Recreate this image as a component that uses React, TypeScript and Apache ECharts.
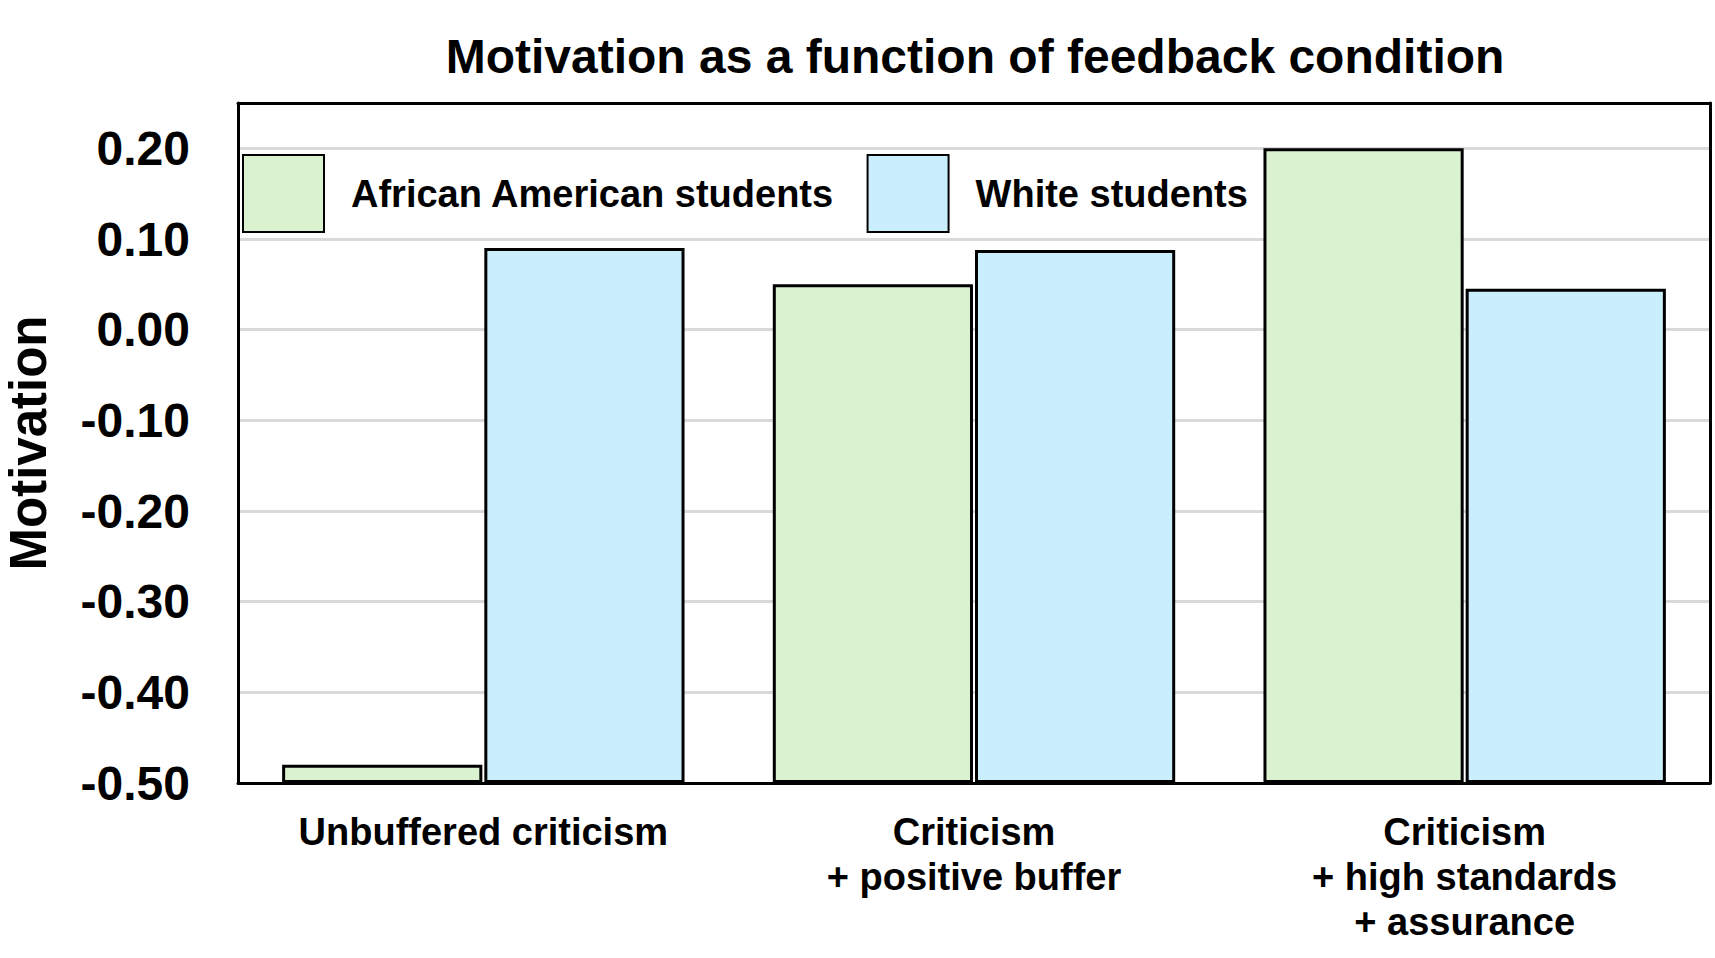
import React, { useEffect, useRef } from "react";
import * as echarts from "echarts";

const categories = [
  "Unbuffered criticism",
  "Criticism\n+ positive buffer",
  "Criticism\n+ high standards\n+ assurance",
];
const seriesNames = ["African American students", "White students"];
const africanAmerican = [-0.48, 0.05, 0.2];
const white = [0.09, 0.088, 0.045];
const yMin = -0.5;
const yMax = 0.25;
const yInterval = 0.1;
const titleText = "Motivation as a function of feedback condition";
const yAxisName = "Motivation";

const FONT = "'Liberation Sans', Arial, Helvetica, sans-serif";

export default function App() {
  const ref = useRef<HTMLDivElement>(null);
  useEffect(() => {
    if (!ref.current) return;
    const chart = echarts.init(ref.current, null, { renderer: "svg" });
    const frameLine = { show: true, onZero: false, lineStyle: { color: "#000", width: 3 } };
    chart.setOption({
      animation: false,
      backgroundColor: "#ffffff",
      title: {
        text: titleText,
        left: 970,
        top: 27,
        textAlign: "center",
        textStyle: {
          fontFamily: FONT,
          fontWeight: "bold",
          fontSize: 48,
          color: "#000",
        },
      },
      legend: {
        data: seriesNames,
        left: 237,
        top: 149,
        orient: "horizontal",
        icon: "rect",
        itemWidth: 81,
        itemHeight: 77,
        itemGap: 32,
        textStyle: {
          fontFamily: FONT,
          fontWeight: "bold",
          fontSize: 38,
          color: "#000",
          padding: [0, 0, 0, 22],
        },
      },
      grid: {
        left: 238,
        right: 5,
        top: 103,
        bottom: 175,
        show: false,
        containLabel: false,
        outerBoundsMode: "none",
      },
      xAxis: [
        {
          type: "category",
          data: categories,
          position: "bottom",
          z: 5,
          axisLine: frameLine,
          axisTick: { show: false },
          axisLabel: {
            fontFamily: FONT,
            fontWeight: "bold",
            fontSize: 38,
            lineHeight: 45,
            color: "#000",
            margin: 26,
            interval: 0,
          },
        },
        {
          type: "category",
          data: categories,
          position: "top",
          z: 5,
          axisLine: frameLine,
          axisTick: { show: false },
          axisLabel: { show: false },
          splitLine: { show: false },
        },
      ],
      yAxis: [
        {
          type: "value",
          min: yMin,
          max: yMax,
          interval: yInterval,
          startValue: yMin,
          position: "left",
          name: yAxisName,
          nameLocation: "middle",
          nameGap: 184,
          nameTextStyle: {
            fontFamily: FONT,
            fontWeight: "bold",
            fontSize: 51,
            color: "#000",
          },
          axisLine: frameLine,
          axisTick: { show: false },
          splitLine: { show: true, lineStyle: { color: "#d9d9d9", width: 3 } },
          axisLabel: {
            fontFamily: FONT,
            fontWeight: "bold",
            fontSize: 48,
            color: "#000",
            margin: 48,
            formatter: (v: number) => {
              if (v > 0.2 + 1e-9) return "";
              if (Math.abs(v) < 1e-9) return "0.00";
              return v.toFixed(2);
            },
          },
        },
        {
          type: "value",
          min: yMin,
          max: yMax,
          interval: yInterval,
          position: "right",
          z: 5,
          axisLine: frameLine,
          axisTick: { show: false },
          axisLabel: { show: false },
          splitLine: { show: false },
        },
      ],
      series: [
        {
          name: seriesNames[0],
          type: "bar",
          data: africanAmerican,
          barWidth: "40.8%",
          barGap: "1%",
          itemStyle: { color: "#daf2d0", borderColor: "#000", borderWidth: 3 },
        },
        {
          name: seriesNames[1],
          type: "bar",
          data: white,
          barWidth: "40.8%",
          barGap: "1%",
          itemStyle: { color: "#caeefb", borderColor: "#000", borderWidth: 3 },
        },
      ],
    });
    return () => chart.dispose();
  }, []);
  return (
    <div
      ref={ref}
      style={{ position: "absolute", left: 0, top: 0, width: 1715, height: 958 }}
    />
  );
}
